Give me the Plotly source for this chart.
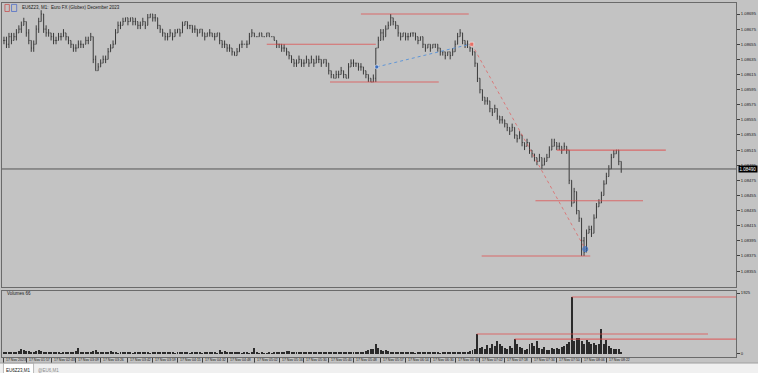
import plotly.graph_objects as go

# ---------------- data (EU6Z23, M1) ----------------
close = [
1.08660,1.08655,1.08665,1.08660,1.08665,1.08670,1.08675,1.08680,1.08685,1.08670,
1.08660,1.08650,1.08655,1.08675,1.08685,1.08695,1.08675,1.08670,1.08670,1.08665,
1.08660,1.08660,1.08665,1.08665,1.08670,1.08665,1.08660,1.08655,1.08650,1.08650,
1.08655,1.08655,1.08655,1.08660,1.08660,1.08665,1.08635,1.08620,1.08625,1.08630,
1.08635,1.08635,1.08645,1.08650,1.08655,1.08670,1.08680,1.08680,1.08685,1.08690,
1.08685,1.08690,1.08685,1.08685,1.08680,1.08680,1.08685,1.08680,1.08690,1.08695,
1.08690,1.08690,1.08680,1.08675,1.08670,1.08665,1.08665,1.08670,1.08665,1.08670,
1.08675,1.08670,1.08680,1.08685,1.08680,1.08680,1.08675,1.08675,1.08670,1.08675,
1.08670,1.08665,1.08670,1.08670,1.08665,1.08665,1.08670,1.08660,1.08655,1.08655,
1.08650,1.08650,1.08645,1.08640,1.08645,1.08655,1.08655,1.08655,1.08655,1.08665,
1.08670,1.08665,1.08665,1.08670,1.08665,1.08665,1.08670,1.08665,1.08665,1.08660,
1.08655,1.08655,1.08650,1.08650,1.08645,1.08640,1.08635,1.08630,1.08630,1.08635,
1.08630,1.08630,1.08635,1.08630,1.08635,1.08630,1.08635,1.08635,1.08630,1.08635,
1.08630,1.08620,1.08615,1.08610,1.08615,1.08615,1.08620,1.08615,1.08610,1.08625,
1.08630,1.08630,1.08630,1.08625,1.08625,1.08620,1.08615,1.08610,1.08605,1.08610,
1.08650,1.08660,1.08670,1.08665,1.08675,1.08680,1.08690,1.08685,1.08680,1.08670,
1.08665,1.08670,1.08665,1.08665,1.08670,1.08670,1.08665,1.08660,1.08665,1.08655,
1.08650,1.08655,1.08650,1.08655,1.08655,1.08650,1.08645,1.08645,1.08640,1.08645,
1.08640,1.08645,1.08655,1.08665,1.08670,1.08660,1.08655,1.08655,1.08650,1.08645,
1.08630,1.08610,1.08595,1.08585,1.08580,1.08580,1.08570,1.08565,1.08570,1.08560,
1.08555,1.08555,1.08550,1.08545,1.08540,1.08545,1.08535,1.08530,1.08535,1.08525,
1.08520,1.08525,1.08515,1.08510,1.08505,1.08500,1.08505,1.08495,1.08500,1.08505,
1.08515,1.08520,1.08525,1.08520,1.08520,1.08515,1.08520,1.08515,1.08475,1.08445,
1.08460,1.08435,1.08425,1.08395,1.08380,1.08405,1.08410,1.08405,1.08425,1.08440,
1.08445,1.08455,1.08470,1.08480,1.08490,1.08505,1.08510,1.08515,1.08500,1.08490]

high = [
1.08665,1.08665,1.08670,1.08670,1.08670,1.08675,1.08680,1.08685,1.08690,1.08685,
1.08675,1.08660,1.08660,1.08680,1.08690,1.08700,1.08695,1.08680,1.08675,1.08670,
1.08670,1.08665,1.08670,1.08670,1.08675,1.08670,1.08665,1.08660,1.08655,1.08655,
1.08660,1.08660,1.08655,1.08665,1.08665,1.08670,1.08665,1.08640,1.08630,1.08635,
1.08640,1.08640,1.08650,1.08655,1.08660,1.08675,1.08685,1.08685,1.08690,1.08690,
1.08690,1.08690,1.08690,1.08690,1.08685,1.08685,1.08690,1.08685,1.08695,1.08695,
1.08695,1.08695,1.08690,1.08680,1.08675,1.08670,1.08670,1.08675,1.08670,1.08675,
1.08675,1.08675,1.08685,1.08685,1.08685,1.08680,1.08680,1.08680,1.08675,1.08675,
1.08675,1.08670,1.08670,1.08675,1.08670,1.08670,1.08670,1.08670,1.08660,1.08660,
1.08655,1.08655,1.08650,1.08645,1.08650,1.08655,1.08660,1.08655,1.08660,1.08670,
1.08675,1.08670,1.08665,1.08670,1.08670,1.08665,1.08670,1.08670,1.08665,1.08665,
1.08660,1.08655,1.08655,1.08655,1.08650,1.08645,1.08640,1.08635,1.08635,1.08640,
1.08635,1.08635,1.08640,1.08635,1.08640,1.08635,1.08640,1.08640,1.08635,1.08635,
1.08635,1.08630,1.08620,1.08615,1.08620,1.08620,1.08625,1.08620,1.08615,1.08630,
1.08635,1.08635,1.08630,1.08630,1.08630,1.08625,1.08620,1.08615,1.08610,1.08615,
1.08650,1.08665,1.08675,1.08675,1.08680,1.08685,1.08695,1.08690,1.08685,1.08680,
1.08670,1.08670,1.08670,1.08670,1.08670,1.08670,1.08670,1.08665,1.08665,1.08665,
1.08655,1.08655,1.08655,1.08655,1.08655,1.08655,1.08650,1.08645,1.08645,1.08645,
1.08645,1.08650,1.08660,1.08670,1.08675,1.08670,1.08660,1.08660,1.08655,1.08650,
1.08645,1.08630,1.08610,1.08595,1.08585,1.08585,1.08580,1.08570,1.08575,1.08570,
1.08560,1.08560,1.08555,1.08550,1.08545,1.08550,1.08545,1.08535,1.08540,1.08535,
1.08525,1.08530,1.08525,1.08515,1.08510,1.08505,1.08510,1.08505,1.08505,1.08510,
1.08520,1.08530,1.08530,1.08525,1.08525,1.08520,1.08525,1.08520,1.08515,1.08475,
1.08465,1.08460,1.08435,1.08425,1.08400,1.08410,1.08415,1.08415,1.08430,1.08445,
1.08450,1.08460,1.08475,1.08485,1.08495,1.08510,1.08515,1.08515,1.08515,1.08500]

low = [
1.08655,1.08650,1.08650,1.08655,1.08660,1.08660,1.08670,1.08670,1.08680,1.08665,
1.08655,1.08645,1.08645,1.08655,1.08670,1.08685,1.08670,1.08665,1.08665,1.08660,
1.08655,1.08655,1.08660,1.08660,1.08665,1.08660,1.08655,1.08650,1.08645,1.08645,
1.08650,1.08650,1.08650,1.08655,1.08655,1.08660,1.08630,1.08620,1.08620,1.08625,
1.08630,1.08630,1.08635,1.08645,1.08650,1.08655,1.08670,1.08675,1.08680,1.08685,
1.08680,1.08685,1.08680,1.08680,1.08675,1.08675,1.08680,1.08675,1.08680,1.08690,
1.08685,1.08685,1.08675,1.08670,1.08665,1.08660,1.08660,1.08665,1.08660,1.08665,
1.08670,1.08665,1.08670,1.08680,1.08675,1.08675,1.08670,1.08670,1.08665,1.08670,
1.08665,1.08660,1.08665,1.08665,1.08665,1.08660,1.08665,1.08655,1.08650,1.08650,
1.08645,1.08645,1.08640,1.08640,1.08640,1.08645,1.08650,1.08655,1.08650,1.08655,
1.08665,1.08665,1.08665,1.08665,1.08665,1.08665,1.08665,1.08665,1.08665,1.08660,
1.08650,1.08650,1.08645,1.08645,1.08640,1.08635,1.08630,1.08625,1.08625,1.08630,
1.08625,1.08625,1.08630,1.08625,1.08630,1.08625,1.08630,1.08630,1.08625,1.08630,
1.08625,1.08615,1.08610,1.08610,1.08610,1.08610,1.08615,1.08610,1.08610,1.08610,
1.08625,1.08625,1.08625,1.08620,1.08620,1.08615,1.08610,1.08605,1.08605,1.08605,
1.08605,1.08650,1.08660,1.08660,1.08665,1.08675,1.08680,1.08680,1.08675,1.08665,
1.08660,1.08665,1.08660,1.08660,1.08665,1.08665,1.08660,1.08655,1.08660,1.08650,
1.08645,1.08650,1.08645,1.08650,1.08650,1.08645,1.08640,1.08640,1.08635,1.08640,
1.08635,1.08640,1.08645,1.08655,1.08665,1.08655,1.08650,1.08650,1.08645,1.08640,
1.08625,1.08605,1.08590,1.08580,1.08575,1.08575,1.08565,1.08560,1.08565,1.08555,
1.08550,1.08550,1.08545,1.08540,1.08535,1.08540,1.08530,1.08525,1.08530,1.08520,
1.08515,1.08520,1.08510,1.08505,1.08500,1.08495,1.08500,1.08490,1.08495,1.08500,
1.08505,1.08515,1.08520,1.08515,1.08515,1.08510,1.08515,1.08510,1.08470,1.08440,
1.08445,1.08430,1.08420,1.08375,1.08375,1.08380,1.08405,1.08400,1.08405,1.08425,
1.08440,1.08445,1.08455,1.08470,1.08480,1.08490,1.08505,1.08510,1.08495,1.08485]

first_open = 1.08660
open_ = [first_open] + close[:-1]   # M1 bars open at the previous close

volume = [
60,45,50,70,40,55,90,160,120,80,
100,70,60,90,120,80,60,50,40,45,
35,50,40,30,45,60,40,50,70,90,
200,60,40,50,35,40,90,110,70,50,
40,45,60,80,50,40,30,45,40,35,
55,40,30,45,50,35,40,60,45,30,
40,35,50,60,45,40,35,55,40,30,
45,40,35,50,40,30,45,60,40,35,
30,40,50,35,45,40,30,110,60,80,
50,40,60,45,35,40,30,35,40,30,
50,190,40,30,35,25,30,40,30,35,
60,45,70,55,80,95,60,50,45,40,
35,50,40,45,60,40,35,50,45,40,
55,60,45,50,40,70,55,45,40,50,
60,45,40,55,50,70,80,110,150,170,
320,180,120,90,110,80,70,60,50,45,
40,55,35,45,60,40,30,50,40,35,
45,60,40,35,50,45,30,40,55,35,
45,40,70,60,50,40,55,45,80,120,
150,630,180,220,160,280,200,330,250,420,
300,240,190,160,260,200,470,300,220,180,
140,170,330,360,250,410,200,160,230,140,
120,180,150,200,170,230,260,300,380,1800,
420,500,500,400,330,440,380,300,350,280,
320,790,300,440,250,200,170,150,160,66]

price_ticks = [1.08695,1.08675,1.08655,1.08635,1.08615,1.08595,1.08575,1.08555,1.08535,
               1.08515,1.08495,1.08475,1.08455,1.08435,1.08415,1.08395,1.08375,1.08355]
price_tick_text = ["%.5f" % v for v in price_ticks]
current_price = 1.08490
volume_ticks = [0, 1925]
volume_tick_text = ["0", "1925"]

time_tick_bars = [0, 9, 19, 29, 39, 50, 60, 70, 80, 90, 101, 111, 121, 131, 141,
                  152, 162, 172, 182, 192, 202, 213, 223, 233, 243]
time_tick_text = ["17 Nov 2023", "17 Nov 01:57", "17 Nov 02:43", "17 Nov 03:09", "17 Nov 03:26",
                  "17 Nov 03:42", "17 Nov 03:59", "17 Nov 04:15", "17 Nov 04:32", "17 Nov 04:48",
                  "17 Nov 05:02", "17 Nov 05:16", "17 Nov 05:30", "17 Nov 05:40", "17 Nov 05:48",
                  "17 Nov 05:57", "17 Nov 06:14", "17 Nov 06:30", "17 Nov 06:46", "17 Nov 07:02",
                  "17 Nov 07:18", "17 Nov 07:34", "17 Nov 07:50", "17 Nov 08:06", "17 Nov 08:22"]

# drawing objects: (bar_from, bar_to, level)
price_levels = [(144, 187.5, 1.08695), (106, 150, 1.08655), (131.5, 175.4, 1.08605),
                (223, 267, 1.08515), (214.4, 257.8, 1.08448), (192.7, 236.5, 1.08375)]
volume_levels = [(229, 295.3, 1800), (190.7, 284, 630), (206, 295.3, 470)]
blue_trend = [(150.4, 1.08625), (188, 1.08655)]
red_trend = [(188.7, 1.08655), (234.5, 1.08384)]

title_text = "EU6Z23, M1:  Euro FX (Globex) December 2023"
volume_label = "Volumes 66"
tabs = ["EU6Z23,M1", "@EU6,M1"]

# ---------------- figure ----------------
bars = list(range(len(close)))
BG = "#c3c3c3"
FRAME = "#6a6a6a"
FONT = "Liberation Sans"
RED = "rgba(226,70,70,0.7)"
BARC = "#3a3a3a"

fig = go.Figure()
fig.add_trace(go.Ohlc(x=bars, open=open_, high=high, low=low, close=close,
                      increasing=dict(line=dict(color=BARC, width=1)),
                      decreasing=dict(line=dict(color=BARC, width=1)),
                      tickwidth=0.3, hoverinfo="skip", showlegend=False,
                      xaxis="x", yaxis="y"))
fig.add_trace(go.Bar(x=bars, y=volume, width=0.4, marker=dict(color="#2a2a2a", line=dict(width=0)),
                     hoverinfo="skip", showlegend=False, xaxis="x2", yaxis="y2"))

# trend lines and markers
fig.add_trace(go.Scatter(x=[p[0] for p in blue_trend], y=[p[1] for p in blue_trend], mode="lines",
                         line=dict(color="rgb(95,150,215)", width=1, dash="dot"),
                         hoverinfo="skip", showlegend=False, xaxis="x", yaxis="y"))
fig.add_trace(go.Scatter(x=[p[0] for p in red_trend], y=[p[1] for p in red_trend], mode="lines",
                         line=dict(color="rgba(226,90,90,0.7)", width=1, dash="dot"),
                         hoverinfo="skip", showlegend=False, xaxis="x", yaxis="y"))
fig.add_trace(go.Scatter(x=[blue_trend[0][0]], y=[blue_trend[0][1]], mode="markers",
                         marker=dict(symbol="circle", size=4, color="rgb(60,110,190)",
                                     line=dict(color="white", width=0.5)),
                         hoverinfo="skip", showlegend=False, xaxis="x", yaxis="y"))
fig.add_trace(go.Scatter(x=[red_trend[0][0]], y=[red_trend[0][1]], mode="markers",
                         marker=dict(symbol="square", size=4, color="rgb(230,110,100)",
                                     line=dict(color="white", width=0.5)),
                         hoverinfo="skip", showlegend=False, xaxis="x", yaxis="y"))
fig.add_trace(go.Scatter(x=[red_trend[1][0]], y=[red_trend[1][1]], mode="markers",
                         marker=dict(symbol="circle-cross-open", size=5, color="rgb(70,120,200)",
                                     line=dict(color="rgb(70,120,200)", width=1)),
                         hoverinfo="skip", showlegend=False, xaxis="x", yaxis="y"))

shapes = []
for x0, x1, lv in price_levels:
    shapes.append(dict(type="line", xref="x", yref="y", x0=x0, x1=x1, y0=lv, y1=lv,
                       line=dict(color=RED, width=1.1)))
for x0, x1, lv in volume_levels:
    shapes.append(dict(type="line", xref="x2", yref="y2", x0=x0, x1=x1, y0=lv, y1=lv,
                       line=dict(color=RED, width=1.1)))
shapes.append(dict(type="line", xref="paper", yref="y", x0=0, x1=1, y0=current_price, y1=current_price,
                   line=dict(color="#555555", width=1)))
# tab bar at the bottom
shapes.append(dict(type="rect", xref="paper", yref="paper", x0=-0.01, x1=1.04, y0=-0.017, y1=-0.06,
                   fillcolor="#f0f0f0", line=dict(width=0), layer="below"))
shapes.append(dict(type="line", xref="paper", yref="paper", x0=-0.01, x1=1.04, y0=-0.017, y1=-0.017,
                   line=dict(color="#a0a0a0", width=1)))
shapes.append(dict(type="rect", xref="paper", yref="paper", x0=0.002, x1=0.043, y0=-0.018, y1=-0.06,
                   fillcolor="white", line=dict(color="#909090", width=0.6)))
# title icons
shapes.append(dict(type="rect", xref="paper", yref="paper", x0=0.004, x1=0.010, y0=0.976, y1=0.996,
                   fillcolor="rgba(0,0,0,0)", line=dict(color="rgb(200,80,80)", width=0.8)))
shapes.append(dict(type="rect", xref="paper", yref="paper", x0=0.013, x1=0.020, y0=0.976, y1=0.996,
                   fillcolor="rgba(0,0,0,0)", line=dict(color="rgb(80,110,200)", width=0.8)))

annotations = [
    dict(xref="paper", yref="paper", x=0.025, y=0.986, text=title_text, showarrow=False,
         xanchor="left", yanchor="middle", font=dict(family=FONT, size=4.5, color="#202020")),
    dict(xref="paper", yref="paper", x=0.004, y=0.178, text=volume_label, showarrow=False,
         xanchor="left", yanchor="middle", font=dict(family=FONT, size=4.5, color="#202020")),
    dict(xref="paper", yref="y", x=1.0, y=current_price, text="%.5f" % current_price,
         showarrow=False, xanchor="left", yanchor="middle", bgcolor="#000000", borderpad=0.5,
         xshift=2, font=dict(family=FONT, size=4.5, color="white")),
    dict(xref="paper", yref="paper", x=0.0225, y=-0.039, text=tabs[0], showarrow=False,
         xanchor="center", yanchor="middle", font=dict(family=FONT, size=4.5, color="#202020")),
    dict(xref="paper", yref="paper", x=0.064, y=-0.039, text=tabs[1], showarrow=False,
         xanchor="center", yanchor="middle", font=dict(family=FONT, size=4.5, color="#8a8a8a")),
]
for b, t in zip(time_tick_bars, time_tick_text):
    annotations.append(dict(xref="x2", yref="paper", x=b, y=-0.009, text=t, showarrow=False,
                            xanchor="left", yanchor="middle", xshift=0.5,
                            font=dict(family=FONT, size=3.5, color="#202020")))

xr = [-0.8, 295.3]
fig.update_layout(
    width=758, height=373, margin=dict(l=1, r=21, t=3, b=16),
    paper_bgcolor=BG, plot_bgcolor=BG, showlegend=False, bargap=0,
    xaxis=dict(domain=[0, 1], range=xr, showticklabels=False, showgrid=False, zeroline=False,
               showline=True, mirror=True, linecolor=FRAME, linewidth=1, ticks="",
               rangeslider=dict(visible=False), anchor="y"),
    yaxis=dict(domain=[0.1977, 1], range=[1.0833388, 1.0870955], side="right",
               tickvals=price_ticks, ticktext=price_tick_text, ticks="outside", ticklen=3,
               tickcolor="#404040", tickfont=dict(family=FONT, size=4.2, color="#202020"),
               showgrid=False, zeroline=False, showline=True, mirror=True, linecolor=FRAME,
               linewidth=1, anchor="x"),
    xaxis2=dict(domain=[0, 1], range=xr, matches="x", showticklabels=False, showgrid=False,
                zeroline=False, showline=True, mirror=True, linecolor=FRAME, linewidth=1,
                tickvals=time_tick_bars, ticks="outside", ticklen=5, tickcolor="#404040",
                anchor="y2"),
    yaxis2=dict(domain=[0, 0.1864], range=[-95, 1988], side="right",
                tickvals=volume_ticks, ticktext=volume_tick_text, ticks="outside", ticklen=3,
                tickcolor="#404040", tickfont=dict(family=FONT, size=4.2, color="#202020"),
                showgrid=False, zeroline=False, showline=True, mirror=True, linecolor=FRAME,
                linewidth=1, anchor="x2"),
    shapes=shapes, annotations=annotations,
)

fig.write_html("out.html")
